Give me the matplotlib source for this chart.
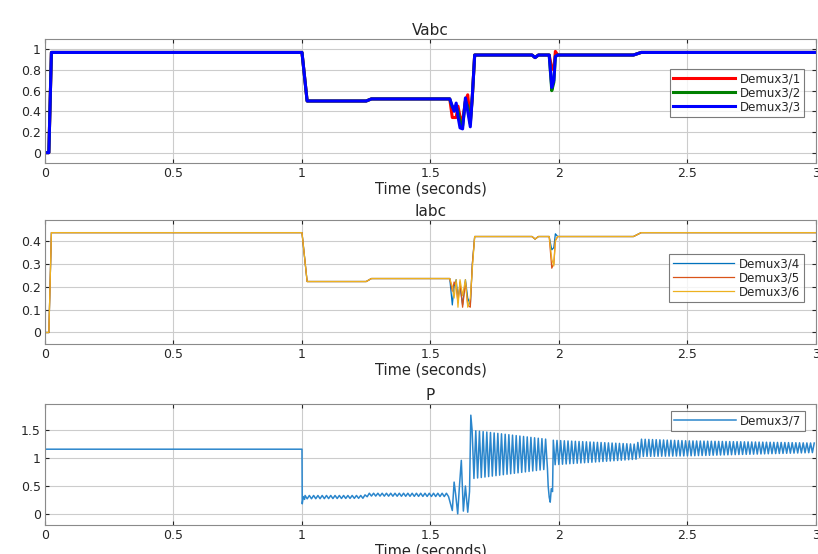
import numpy as np
import matplotlib
matplotlib.use('Agg')
import matplotlib.pyplot as plt

plt.rcParams['font.family'] = ['DejaVu Sans']

# ---- Vabc / Iabc : breakpoints ----
t_ev = [0, 0.015, 0.025, 1.0, 1.02, 1.25, 1.27, 1.575, 1.585, 1.592, 1.60, 1.607,
        1.615, 1.625, 1.636, 1.645, 1.655, 1.663, 1.672, 1.895, 1.907, 1.92,
        1.962, 1.972, 1.98, 1.986, 1.995, 2.29, 2.32, 3.0]

va = [0, 0, 0.97, 0.97, 0.50, 0.50, 0.52, 0.52, 0.34, 0.34, 0.34, 0.45,
      0.35, 0.30, 0.50, 0.56, 0.30, 0.55, 0.945, 0.945, 0.92, 0.945,
      0.945, 0.82, 0.80, 0.98, 0.945, 0.945, 0.97, 0.97]
vb = [0, 0, 0.97, 0.97, 0.50, 0.50, 0.52, 0.52, 0.44, 0.44, 0.44, 0.40,
      0.30, 0.26, 0.50, 0.45, 0.28, 0.55, 0.945, 0.945, 0.92, 0.945,
      0.945, 0.60, 0.68, 0.93, 0.945, 0.945, 0.97, 0.97]
vc = [0, 0, 0.97, 0.97, 0.50, 0.50, 0.52, 0.52, 0.45, 0.40, 0.48, 0.35,
      0.24, 0.23, 0.53, 0.40, 0.25, 0.55, 0.945, 0.945, 0.92, 0.945,
      0.945, 0.63, 0.70, 0.93, 0.945, 0.945, 0.97, 0.97]

ia = [0, 0, 0.435, 0.435, 0.222, 0.222, 0.235, 0.235, 0.12, 0.20, 0.23, 0.15,
      0.20, 0.12, 0.23, 0.15, 0.12, 0.30, 0.418, 0.418, 0.407, 0.418,
      0.418, 0.36, 0.37, 0.43, 0.418, 0.418, 0.435, 0.435]
ib = [0, 0, 0.435, 0.435, 0.222, 0.222, 0.235, 0.235, 0.18, 0.22, 0.20, 0.13,
      0.22, 0.11, 0.22, 0.12, 0.11, 0.30, 0.418, 0.418, 0.407, 0.418,
      0.418, 0.28, 0.30, 0.40, 0.418, 0.418, 0.435, 0.435]
ic = [0, 0, 0.435, 0.435, 0.222, 0.222, 0.235, 0.235, 0.20, 0.15, 0.23, 0.11,
      0.23, 0.16, 0.23, 0.11, 0.15, 0.28, 0.418, 0.418, 0.407, 0.418,
      0.418, 0.32, 0.29, 0.40, 0.418, 0.418, 0.435, 0.435]

# ---- P : steady parts, transient points, and oscillation envelopes ----
p_start_t = [0, 1.0, 1.001, 1.005, 1.01]
p_start_v = [1.16, 1.16, 0.18, 0.31, 0.26]
ripple_t = [1.01, 1.24, 1.26, 1.575]          # small ripple envelope
ripple_hi = [0.33, 0.33, 0.37, 0.37]
ripple_lo = [0.27, 0.28, 0.32, 0.31]
p_fault_t = [1.585, 1.592, 1.598, 1.606, 1.612, 1.62, 1.628, 1.636, 1.645, 1.652, 1.657]
p_fault_v = [0.06, 0.57, 0.35, 0.0, 0.45, 0.96, 0.05, 0.50, 0.03, 0.40, 1.77]
osc_t = [1.66, 1.95, 1.98, 2.30, 2.32, 2.5, 3.0]  # large oscillation envelope
osc_hi = [1.50, 1.34, 1.32, 1.25, 1.34, 1.31, 1.27]
osc_lo = [0.63, 0.80, 0.88, 0.98, 1.03, 1.04, 1.10]
p_dip_t = [1.958, 1.962, 1.966, 1.970, 1.975]
p_dip_v = [0.50, 0.30, 0.21, 0.45, 0.40]
ripple_period = 1 / 60
osc_period = 0.0143


def zigzag(t0, t1, env_t, env_hi, env_lo, period):
    # alternate between the read envelopes every half period
    tt = np.arange(t0, t1, period / 2)
    hi = np.interp(tt, env_t, env_hi)
    lo = np.interp(tt, env_t, env_lo)
    return tt, np.where(np.arange(len(tt)) % 2 == 0, hi, lo)


r_t, r_v = zigzag(1.012, 1.575, ripple_t, ripple_hi, ripple_lo, ripple_period)
o1_t, o1_v = zigzag(1.662, 1.956, osc_t, osc_hi, osc_lo, osc_period)
o2_t, o2_v = zigzag(1.978, 3.0, osc_t, osc_hi, osc_lo, osc_period)
p_t = np.concatenate([p_start_t, r_t, p_fault_t, o1_t, p_dip_t, o2_t])
p_v = np.concatenate([p_start_v, r_v, p_fault_v, o1_v, p_dip_v, o2_v])

fig = plt.figure(figsize=(8.18, 5.54), dpi=100)
ax1 = fig.add_axes([0.055, 0.7058, 0.9425, 0.2238])
ax2 = fig.add_axes([0.055, 0.3791, 0.9425, 0.2238])
ax3 = fig.add_axes([0.055, 0.0523, 0.9425, 0.2184])

ax1.plot(t_ev, va, color='#ff0000', lw=2.2, label='Demux3/1')
ax1.plot(t_ev, vb, color='#008000', lw=2.2, label='Demux3/2')
ax1.plot(t_ev, vc, color='#0000ff', lw=2.2, label='Demux3/3')
ax1.set_ylim(-0.1, 1.1)
ax1.set_yticks([0, 0.2, 0.4, 0.6, 0.8, 1])
ax1.set_yticklabels(['0', '0.2', '0.4', '0.6', '0.8', '1'])

ax2.plot(t_ev, ia, color='#0072BD', lw=0.9, label='Demux3/4')
ax2.plot(t_ev, ib, color='#D95319', lw=0.9, label='Demux3/5')
ax2.plot(t_ev, ic, color='#EDB120', lw=0.9, label='Demux3/6')
ax2.set_ylim(-0.05, 0.49)
ax2.set_yticks([0, 0.1, 0.2, 0.3, 0.4])
ax2.set_yticklabels(['0', '0.1', '0.2', '0.3', '0.4'])

ax3.plot(p_t, p_v, color='#2b86cc', lw=1.1, label='Demux3/7')
ax3.set_ylim(-0.2, 1.97)
ax3.set_yticks([0, 0.5, 1, 1.5])
ax3.set_yticklabels(['0', '0.5', '1', '1.5'])

titles = ['Vabc', 'Iabc', 'P']
anchors = [(0.985, 0.758), (0.984, 0.726), (0.986, 0.942)]
for ax, ttl, anc in zip([ax1, ax2, ax3], titles, anchors):
    ax.set_xlim(0, 3)
    ax.set_xticks([0, 0.5, 1, 1.5, 2, 2.5, 3])
    ax.set_xticklabels(['0', '0.5', '1', '1.5', '2', '2.5', '3'])
    ax.grid(True, color='#cccccc', lw=0.8)
    ax.set_axisbelow(True)
    ax.tick_params(direction='in', length=3, top=True, right=True,
                   labelsize=9, colors='#262626', pad=3)
    for s in ax.spines.values():
        s.set_color('#8a8a8a')
        s.set_linewidth(0.8)
    ax.set_xlabel('Time (seconds)', fontsize=10.5, color='#262626', labelpad=1)
    ax.set_title(ttl, fontsize=11, color='#262626', pad=3)
    leg = ax.legend(loc='upper right', bbox_to_anchor=anc, borderaxespad=0,
                    fontsize=8.5, frameon=True, fancybox=False, handlelength=5.2,
                    handletextpad=0.4, labelspacing=0.08, borderpad=0.3)
    leg.get_frame().set_edgecolor('#5a5a5a')
    leg.get_frame().set_linewidth(0.8)
    for txt in leg.get_texts():
        txt.set_color('#262626')

fig.savefig('out.png', dpi=100)
